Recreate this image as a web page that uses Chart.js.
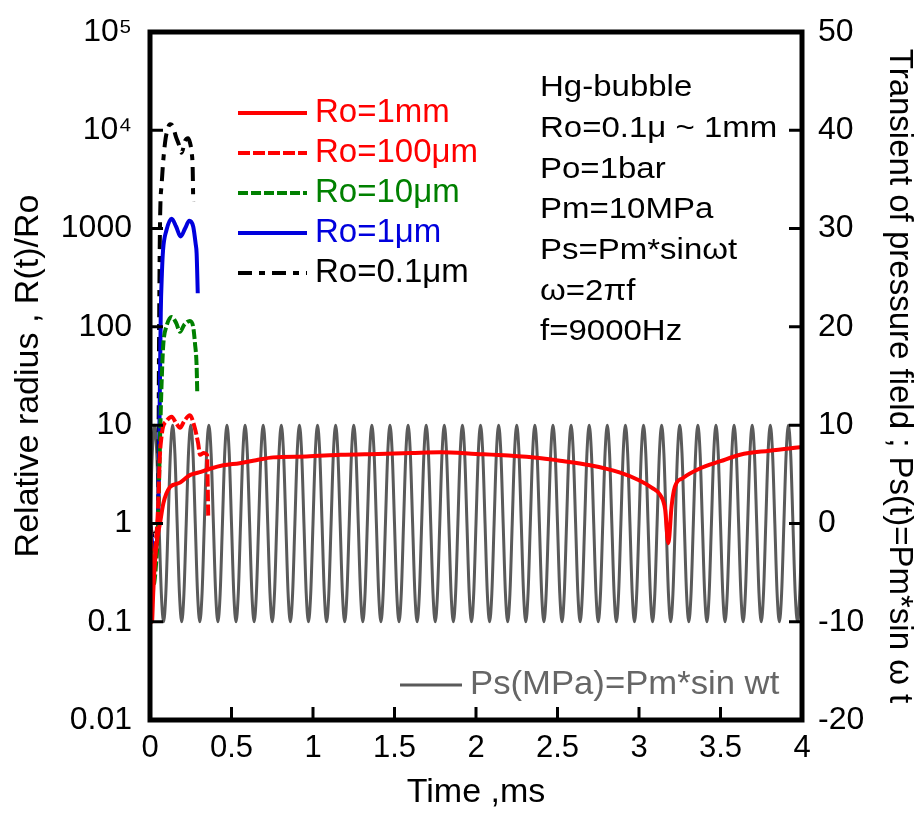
<!DOCTYPE html>
<html>
<head>
<meta charset="utf-8">
<script src="https://cdn.jsdelivr.net/npm/chart.js@4.4.0/dist/chart.umd.min.js"></script>
<style>
  body { margin: 0; background: #fff; }
</style>
</head>
<body>
<canvas id="chart" width="919" height="813"></canvas>
<script>
// axis ticks
const xTicks = [0, 0.5, 1, 1.5, 2, 2.5, 3, 3.5, 4];
const leftTicks = [0.01, 0.1, 1, 10, 100, 1000, 1e4, 1e5];
const leftTickLabels = ['0.01', '0.1', '1', '10', '100', '1000', '10\u2074', '10\u2075'];
const rightTicks = [-20, -10, 0, 10, 20, 30, 40, 50];

// Ro = 1mm  (time in ms, R/Ro)
const t1mm = [0, 0.005, 0.012, 0.02, 0.03, 0.045, 0.061, 0.082, 0.1, 0.123, 0.184, 0.245, 0.3, 0.368, 0.45, 0.55, 0.65, 0.755, 0.96, 1.17, 1.4, 1.6, 1.78, 2.0, 2.2, 2.4, 2.515, 2.7, 2.88, 3.0, 3.08, 3.13, 3.16, 3.18, 3.2, 3.22, 3.27, 3.37, 3.5, 3.62, 3.8, 4.0];
const r1mm = [1, 0.4, 0.1, 0.2, 0.4, 0.7, 1.0, 1.6, 2.0, 2.35, 2.6, 3.1, 3.3, 3.6, 3.9, 4.1, 4.4, 4.7, 4.8, 5.0, 5.1, 5.2, 5.3, 5.1, 4.9, 4.6, 4.35, 3.9, 3.3, 2.75, 2.3, 1.95, 1.4, 0.63, 1.5, 2.35, 2.9, 3.6, 4.3, 5.0, 5.5, 6.0];

// Ro = 100um
const t100um = [0, 0.01, 0.02, 0.035, 0.05, 0.06, 0.07, 0.08, 0.1, 0.133, 0.16, 0.184, 0.21, 0.245, 0.27, 0.295, 0.307, 0.33, 0.35, 0.355, 0.357];
const r100um = [1, 0.5, 0.35, 0.6, 1.5, 4.7, 7.5, 9.6, 11, 12.2, 10.5, 9.4, 11, 12.6, 10, 6.6, 5.0, 5.2, 5.0, 2.0, 1.2];

// Ro = 10um
const t10um = [0, 0.01, 0.02, 0.035, 0.05, 0.058, 0.066, 0.075, 0.082, 0.1, 0.133, 0.16, 0.184, 0.21, 0.245, 0.265, 0.276, 0.286, 0.29];
const r10um = [1, 0.5, 0.23, 0.35, 1.0, 4, 14, 40, 68, 100, 126, 110, 89, 105, 115, 100, 68, 40, 21];

// Ro = 1um
const t1um = [0, 0.01, 0.02, 0.035, 0.05, 0.058, 0.066, 0.073, 0.08, 0.1, 0.133, 0.16, 0.188, 0.215, 0.241, 0.265, 0.28, 0.286, 0.293];
const r1um = [1, 0.7, 0.54, 0.6, 1.0, 10, 138, 350, 600, 950, 1260, 1050, 830, 1000, 1200, 1050, 700, 560, 220];

// Ro = 0.1um
const t01um = [0, 0.01, 0.02, 0.035, 0.05, 0.055, 0.061, 0.072, 0.092, 0.11, 0.123, 0.14, 0.16, 0.174, 0.194, 0.215, 0.233, 0.245, 0.255, 0.262, 0.265];
const r01um = [1, 0.8, 0.7, 0.8, 1.2, 50, 1000, 2900, 7400, 10500, 11500, 11000, 8500, 7400, 5900, 7800, 8300, 7500, 6000, 4000, 1900];

// pressure field: one cycle of Ps (MPa), f = 9000 Hz
const psCycle = [0, 7.1, 10, 7.1, 0, -7.1, -10, -7.1];
const psFreq = 9000;
const tEnd = 4;

const notes = ['Hg-bubble', 'Ro=0.1\u03bc ~ 1mm', 'Po=1bar', 'Pm=10MPa', 'Ps=Pm*sin\u03c9t', '\u03c9=2\u03c0f', 'f=9000Hz'];

const FONT = "'Liberation Sans', Arial, sans-serif";

function pts(t, v) {
  return t.map((x, i) => ({ x: x, y: v[i] }));
}

const period = 1000 / psFreq;
const nCycles = Math.round(tEnd / period);
const psPoints = [];
for (let c = 0; c < nCycles; c++) {
  psCycle.forEach((v, i) => psPoints.push({ x: (c + i / psCycle.length) * period, y: v }));
}
psPoints.push({ x: nCycles * period, y: psCycle[0] });

function drawText(ctx, str, x, y, size, color, sx) {
  ctx.save();
  ctx.translate(x, y);
  ctx.scale(sx, 1);
  ctx.font = size + 'px ' + FONT;
  ctx.fillStyle = color;
  ctx.textBaseline = 'middle';
  ctx.textAlign = 'left';
  ctx.fillText(str, 0, 0);
  ctx.restore();
}

// vertical scales: fixed width, no extra label padding (chart area set by layout)
function fixWidth(w) {
  return s => { s.width = w; s.paddingTop = 0; s.paddingBottom = 0; };
}

// frame, inward ticks, legends and notes
const decor = {
  id: 'decor',
  afterDatasetsDraw(chart) {
    const { ctx, chartArea: a, scales } = chart;
    ctx.save();
    ctx.strokeStyle = '#000';
    ctx.lineWidth = 3;
    const tl = 13;
    ctx.beginPath();
    xTicks.forEach(v => {
      const px = scales.x.getPixelForValue(v);
      ctx.moveTo(px, a.bottom); ctx.lineTo(px, a.bottom - tl);
    });
    leftTicks.forEach(v => {
      const py = scales.y.getPixelForValue(v);
      ctx.moveTo(a.left, py); ctx.lineTo(a.left + tl, py);
    });
    rightTicks.forEach(v => {
      const py = scales.y1.getPixelForValue(v);
      ctx.moveTo(a.right, py); ctx.lineTo(a.right - tl, py);
    });
    ctx.stroke();
    ctx.lineWidth = 5;
    ctx.strokeRect(a.left, a.top, a.right - a.left, a.bottom - a.top);

    // series legend
    chart.data.datasets.forEach((ds, i) => {
      if (ds.yAxisID !== 'y') return;
      const y = 113 + 40 * i;
      ctx.beginPath();
      ctx.strokeStyle = ds.borderColor;
      ctx.lineWidth = ds.borderWidth;
      ctx.setLineDash(ds.borderDash || []);
      ctx.moveTo(238, y); ctx.lineTo(307, y);
      ctx.stroke();
      ctx.setLineDash([]);
      drawText(ctx, ds.label, 315, y, 33, ds.borderColor, 1);
    });

    // pressure legend
    const ps = chart.data.datasets.find(d => d.yAxisID === 'y1');
    ctx.beginPath();
    ctx.strokeStyle = ps.borderColor;
    ctx.lineWidth = ps.borderWidth;
    ctx.moveTo(400, 685); ctx.lineTo(462, 685);
    ctx.stroke();
    drawText(ctx, ps.label, 470, 685, 34, '#666', 1.02);

    // notes
    notes.forEach((s, i) => drawText(ctx, s, 540, 88 + 40.7 * i, 30, '#000', 1.1));
    ctx.restore();
  }
};

const ctx = document.getElementById('chart').getContext('2d');
new Chart(ctx, {
  type: 'line',
  data: {
    datasets: [
      { label: 'Ro=1mm', data: pts(t1mm, r1mm), yAxisID: 'y', borderColor: '#ff0000', borderWidth: 4 },
      { label: 'Ro=100\u03bcm', data: pts(t100um, r100um), yAxisID: 'y', borderColor: '#ff0000', borderWidth: 4, borderDash: [12, 3] },
      { label: 'Ro=10\u03bcm', data: pts(t10um, r10um), yAxisID: 'y', borderColor: '#008000', borderWidth: 4, borderDash: [10, 3] },
      { label: 'Ro=1\u03bcm', data: pts(t1um, r1um), yAxisID: 'y', borderColor: '#0000dd', borderWidth: 4 },
      { label: 'Ro=0.1\u03bcm', data: pts(t01um, r01um), yAxisID: 'y', borderColor: '#000000', borderWidth: 4, borderDash: [14, 7, 6, 7] },
      { label: 'Ps(MPa)=Pm*sin wt', data: psPoints, yAxisID: 'y1', borderColor: '#5a5a5a', borderWidth: 3, tension: 0.4 }
    ]
  },
  options: {
    responsive: false,
    animation: false,
    events: [],
    elements: { point: { radius: 0 }, line: { fill: false, cubicInterpolationMode: 'monotone' } },
    layout: { padding: { top: 32, right: 0, bottom: 0, left: 0 } },
    plugins: { legend: { display: false }, tooltip: { enabled: false } },
    scales: {
      x: {
        type: 'linear', min: 0, max: 4,
        afterBuildTicks: s => { s.ticks = xTicks.map(v => ({ value: v })); },
        afterFit: s => { s.height = 93; },
        grid: { display: false, drawTicks: false },
        border: { display: false },
        ticks: { color: '#000', font: { family: FONT, size: 31 }, padding: 10, maxRotation: 0, callback: v => String(v) },
        title: { display: true, text: 'Time ,ms', color: '#000', font: { family: FONT, size: 34 }, padding: { top: 0, bottom: 0 } }
      },
      y: {
        type: 'logarithmic', position: 'left', min: 0.01, max: 1e5,
        afterBuildTicks: s => { s.ticks = leftTicks.map(v => ({ value: v })); },
        afterFit: fixWidth(150),
        grid: { display: false, drawTicks: false },
        border: { display: false },
        ticks: {
          color: '#000', font: { family: FONT, size: 32 }, padding: 18,
          callback: v => leftTickLabels[leftTicks.indexOf(v)]
        },
        title: { display: true, text: 'Relative radius , R(t)/Ro', color: '#000', font: { family: FONT, size: 34 }, padding: { top: 8, bottom: 0 } }
      },
      y1: {
        type: 'linear', position: 'right', min: -20, max: 50,
        afterBuildTicks: s => { s.ticks = rightTicks.map(v => ({ value: v })); },
        afterFit: fixWidth(117),
        grid: { display: false, drawTicks: false },
        border: { display: false },
        ticks: { color: '#000', font: { family: FONT, size: 32 }, padding: 16 },
        title: { display: true, text: 'Transient of pressure field ; Ps(t)=Pm*sin \u03c9 t', color: '#000', font: { family: FONT, size: 33 }, padding: { top: 0, bottom: 0 } }
      }
    }
  },
  plugins: [decor]
});
</script>
</body>
</html>
